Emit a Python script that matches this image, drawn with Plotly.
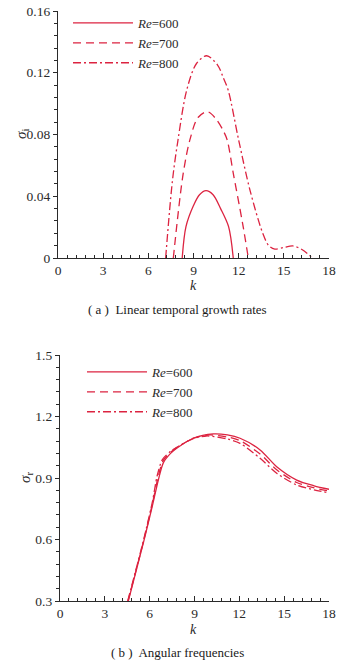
import plotly.graph_objects as go

# ---- data ----
# (a) Linear temporal growth rates sigma_i vs k
k600_a = [8.25, 8.5, 9.0, 9.4, 9.83, 10.3, 10.8, 11.33, 11.64]
s600_a = [0.0, 0.0203, 0.034, 0.041, 0.0436, 0.041, 0.032, 0.0203, 0.0]
k700_a = [7.66, 8.32, 8.8, 9.3, 9.92, 10.5, 11.0, 11.24, 11.64, 12.26, 12.64]
s700_a = [0.0, 0.055, 0.078, 0.091, 0.0948, 0.090, 0.082, 0.0764, 0.055, 0.0225, 0.0]
k800_a = [7.15, 7.6, 7.97, 8.55, 9.2, 9.87, 10.6, 10.95, 11.3, 12.0, 12.75, 13.6, 14.0, 14.4, 15.0, 15.6, 16.2, 16.9]
s800_a = [0.0, 0.05, 0.0764, 0.1088, 0.126, 0.131, 0.125, 0.1175, 0.1088, 0.0764, 0.044, 0.016, 0.008, 0.0058, 0.0068, 0.0078, 0.0055, 0.0]

# (b) Angular frequencies sigma_r vs k
k600_b = [4.57, 5.0, 5.6, 6.2, 6.58, 6.92, 7.4, 7.81, 8.92, 10.26, 11.2, 12.05, 13.39, 14.5, 15.84, 17.0, 18.0]
s600_b = [0.3, 0.42, 0.59, 0.77, 0.89, 0.975, 1.02, 1.045, 1.094, 1.115, 1.110, 1.094, 1.037, 0.955, 0.890, 0.862, 0.845]
k700_b = [4.55, 5.0, 5.6, 6.2, 6.55, 6.9, 7.4, 7.81, 8.92, 10.0, 11.2, 12.05, 13.39, 14.5, 15.84, 17.0, 18.0]
s700_b = [0.3, 0.425, 0.595, 0.78, 0.90, 0.985, 1.025, 1.048, 1.094, 1.110, 1.100, 1.082, 1.017, 0.940, 0.878, 0.852, 0.836]
k800_b = [4.53, 5.0, 5.6, 6.2, 6.5, 6.85, 7.4, 7.81, 8.92, 9.8, 11.2, 12.05, 13.39, 14.5, 15.84, 17.0, 18.0]
s800_b = [0.3, 0.43, 0.60, 0.79, 0.91, 0.99, 1.03, 1.050, 1.092, 1.105, 1.090, 1.069, 0.996, 0.923, 0.866, 0.842, 0.828]

series_names = ["<i>Re</i>=600", "<i>Re</i>=700", "<i>Re</i>=800"]
dashes = ["solid", "8px,5px", "8px,3px,2px,3px"]

x_ticks = [0, 3, 6, 9, 12, 15, 18]
ya_ticks = [0, 0.04, 0.08, 0.12, 0.16]
ya_text = ["0", "0.04", "0.08", "0.12", "0.16"]
yb_ticks = [0.3, 0.6, 0.9, 1.2, 1.5]
yb_text = ["0.3", "0.6", "0.9", "1.2", "1.5"]

captions = ["( a )  Linear temporal growth rates", "( b )  Angular frequencies"]

RED = "#dc2340"
AX = "#2a2a2a"
FONT = "Liberation Serif"

fig = go.Figure()

data_a = [(k600_a, s600_a), (k700_a, s700_a), (k800_a, s800_a)]
data_b = [(k600_b, s600_b), (k700_b, s700_b), (k800_b, s800_b)]
for (kx, sy), name, d in zip(data_a, series_names, dashes):
    fig.add_trace(go.Scatter(x=kx, y=sy, mode="lines", name=name,
                             line=dict(color=RED, width=1.3, dash=d, shape="spline", smoothing=0.9),
                             xaxis="x", yaxis="y", legend="legend"))
for (kx, sy), name, d in zip(data_b, series_names, dashes):
    fig.add_trace(go.Scatter(x=kx, y=sy, mode="lines", name=name,
                             line=dict(color=RED, width=1.3, dash=d, shape="spline", smoothing=0.8),
                             xaxis="x2", yaxis="y2", legend="legend2"))

W, H = 358, 664
def px_x(p):
    return p / W
def px_y(p):
    return 1 - p / H

xcommon = dict(range=[0, 18], tickvals=x_ticks, ticks="inside", ticklen=5, tickwidth=1,
               tickcolor=AX, showline=True, linecolor=AX, linewidth=1.3, showgrid=False,
               zeroline=False, automargin=False, tickfont=dict(family=FONT, size=13.5, color=AX),
               minor=dict(ticks="inside", ticklen=3, dtick=0.6, tickcolor=AX, tickwidth=1, showgrid=False),
               fixedrange=True)
ycommon = dict(ticks="outside", ticklen=4, tickwidth=1, tickcolor=AX, showline=True,
               linecolor=AX, linewidth=1.3, showgrid=False, zeroline=False, automargin=False,
               tickfont=dict(family=FONT, size=13.5, color=AX), fixedrange=True)

LEG_FONT = dict(family=FONT, size=13, color=AX)
fig.update_layout(
    width=W, height=H,
    margin=dict(l=0, r=0, t=0, b=0, autoexpand=False),
    paper_bgcolor="white", plot_bgcolor="white",
    font=dict(family=FONT, size=13, color=AX),
    xaxis=dict(domain=[px_x(58), px_x(329)], anchor="y", **xcommon),
    yaxis=dict(domain=[px_y(258), px_y(11)], anchor="x", range=[0, 0.16],
               tickvals=ya_ticks, ticktext=ya_text,
               minor=dict(ticks="outside", ticklen=3, dtick=0.008, tickcolor=AX, tickwidth=1, showgrid=False),
               **ycommon),
    xaxis2=dict(domain=[px_x(60), px_x(329)], anchor="y2", **xcommon),
    yaxis2=dict(domain=[px_y(601), px_y(355)], anchor="x2", range=[0.3, 1.5],
                tickvals=yb_ticks, ticktext=yb_text,
                minor=dict(ticks="outside", ticklen=3, dtick=0.06, tickcolor=AX, tickwidth=1, showgrid=False),
                **ycommon),
    legend=dict(x=px_x(68), y=px_y(8), xanchor="left", yanchor="top",
                bgcolor="rgba(0,0,0,0)", font=LEG_FONT, itemwidth=60, tracegroupgap=0),
    legend2=dict(x=px_x(82), y=px_y(357), xanchor="left", yanchor="top",
                 bgcolor="rgba(0,0,0,0)", font=LEG_FONT, itemwidth=60, tracegroupgap=0),
    showlegend=True,
)

def ann(text, x, y, size=13, angle=0, color=AX):
    return dict(text=text, x=px_x(x), y=px_y(y), xref="paper", yref="paper",
                xanchor="center", yanchor="middle", showarrow=False, textangle=angle,
                font=dict(family=FONT, size=size, color=color))

annotations = [
    ann("<i>k</i>", 193, 285, size=14),
    ann("<i>k</i>", 193, 629, size=14),
    ann("<i>σ</i><sub>i</sub>", 22, 134, size=15, angle=-90),
    ann("<i>σ</i><sub>r</sub>", 26, 478, size=15, angle=-90),
    ann(captions[0], 177, 309, color="#1a1a1a"),
    ann(captions[1], 177, 652, color="#1a1a1a"),
]
fig.update_layout(annotations=annotations)

fig.write_html("out.html", config={"displayModeBar": False},
               post_script="document.body.style.margin='0';")
